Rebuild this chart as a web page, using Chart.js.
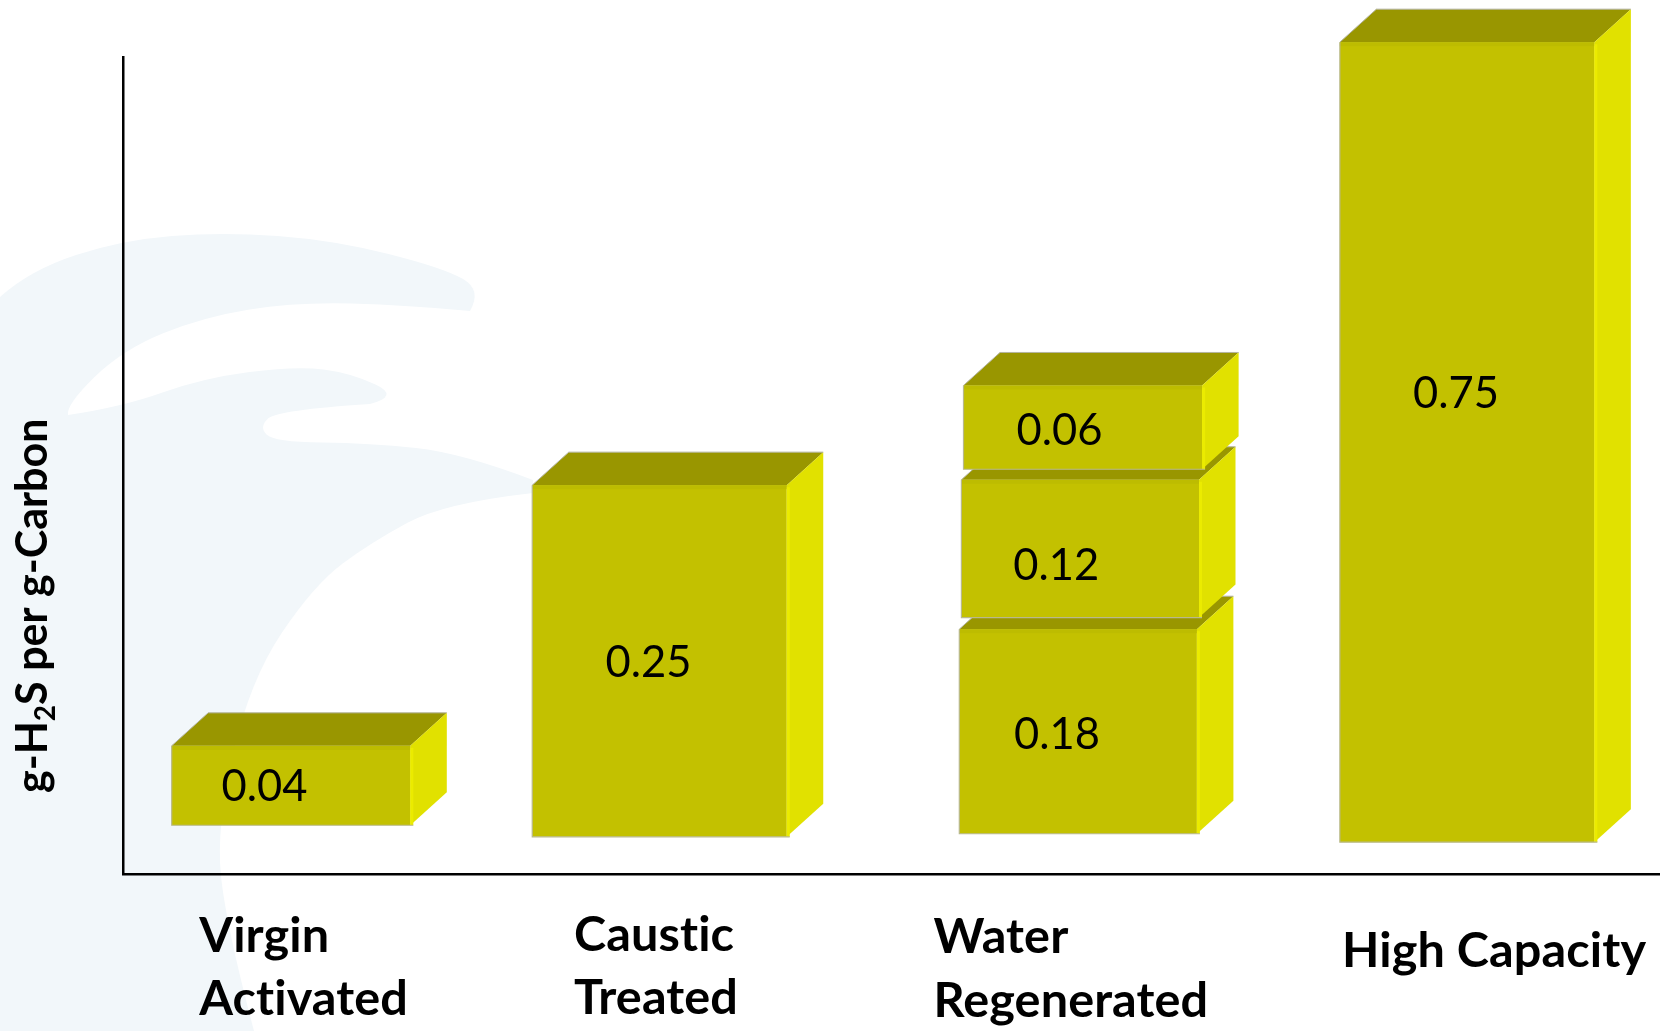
<!DOCTYPE html>
<html>
<head>
<meta charset="utf-8">
<style>
  html, body { margin: 0; padding: 0; background: #fff; }
  canvas { display: block; }
</style>
<script src="https://cdn.jsdelivr.net/npm/chart.js@4/dist/chart.umd.min.js"></script>
</head>
<body>
<canvas id="capacityChart" width="1662" height="1031"></canvas>
<script>
const categories = [['Virgin', 'Activated'], ['Caustic', 'Treated'], ['Water', 'Regenerated'], ['High Capacity']];

// heights as drawn in the picture (the boxes are not to scale with their printed numbers)
const lowerBottoms = [0.0457, 0.0348, 0.0377, 0.0298];
const lowerTops = [0.1201, 0.3644, 0.2294, 0.7795];
const middleBottoms = [null, null, 0.2403, null];
const middleTops = [null, null, 0.3694, null];
const upperBottoms = [null, null, 0.3793, null];
const upperTops = [null, null, 0.4578, null];

const lowerLabels = ['0.04', '0.25', '0.18', '0.75'];
const middleLabels = [null, null, '0.12', null];
const upperLabels = [null, null, '0.06', null];

const yAxisTop = 0.7656;

const floating = (bottoms, tops) => bottoms.map((b, i) => (b === null ? null : [b, tops[i]]));

// box placement relative to the category slot, one row per dataset
const boxShift = [[-24, -39.5, -4.9, 0.1], [0, 0, -2.8, 0], [0, 0, -0.2, 0]];
const boxWidth = [[238.6, 254.5, 237.6, 254.5], [0, 0, 237.6, 0], [0, 0, 238.6, 0]];
const labelShift = [
  [[-26.5, 1], [-11, 2], [-21, 3.6], [-11, -48]],
  [null, null, [-24, 17], null],
  [null, null, [-23.4, 3.6], null]
];
const tickShift = [-115.7, -125, -149.5, -125];
const tickLineY = [[936, 999.5], [935, 998.5], [937, 1001], [951]];
const depthX = 36.5;
const depthY = 33;

const frontColor = '#c3c100';
const topColor = '#999600';
const sideColor = '#e1e100';
const washColor = '#f2f7fa';

// pale logo behind the chart
const washParts = [
  [[0, 297], [30, 270], [122, 240], [222, 232], [333, 240], [444, 268], [482, 290], [470, 311]],
  [[470, 311], [407, 305], [296, 302], [203, 317], [122, 350], [66, 405], [68, 415]],
  [[68, 415], [122, 407], [203, 378], [296, 366], [351, 373], [400, 396], [370, 404]],
  [[370, 404], [277, 410], [259, 427], [274, 442], [370, 443], [462, 453], [533, 480]],
  [[533, 480], [533, 493]],
  [[533, 493], [444, 503], [370, 543], [314, 585], [250, 680], [216, 827], [226, 925], [254, 1031]]
];

const washPlugin = {
  id: 'wash',
  beforeDraw(chart) {
    const ctx = chart.ctx;
    ctx.save();
    ctx.fillStyle = '#fff';
    ctx.fillRect(0, 0, chart.width, chart.height);
    ctx.fillStyle = washColor;
    ctx.beginPath();
    ctx.moveTo(0, 1031);
    ctx.lineTo(0, 297);
    washParts.forEach(part => {
      for (let i = 1; i < part.length - 1; i++) {
        const endX = i === part.length - 2 ? part[i + 1][0] : (part[i][0] + part[i + 1][0]) / 2;
        const endY = i === part.length - 2 ? part[i + 1][1] : (part[i][1] + part[i + 1][1]) / 2;
        ctx.quadraticCurveTo(part[i][0], part[i][1], endX, endY);
      }
      if (part.length === 2) ctx.lineTo(part[1][0], part[1][1]);
    });
    ctx.closePath();
    ctx.fill();
    ctx.restore();
  }
};

const boxPlugin = {
  id: 'box3d',
  afterDatasetsUpdate(chart) {
    chart.data.datasets.forEach((ds, d) => {
      chart.getDatasetMeta(d).data.forEach((bar, i) => {
        if (!boxWidth[d][i]) return;
        bar.x += boxShift[d][i];
        bar.width = boxWidth[d][i];
      });
    });
  },
  afterDatasetDraw(chart, args) {
    const ctx = chart.ctx;
    args.meta.data.forEach((bar, i) => {
      if (!boxWidth[args.index][i]) return;
      const left = bar.x - bar.width / 2;
      const right = bar.x + bar.width / 2;
      const top = bar.y;
      const bottom = bar.base;
      ctx.save();
      // top face
      ctx.fillStyle = topColor;
      ctx.beginPath();
      ctx.moveTo(left, top);
      ctx.lineTo(left + depthX, top - depthY);
      ctx.lineTo(right + depthX, top - depthY);
      ctx.lineTo(right, top);
      ctx.closePath();
      ctx.fill();
      // side face
      ctx.fillStyle = sideColor;
      ctx.beginPath();
      ctx.moveTo(right, top);
      ctx.lineTo(right + depthX, top - depthY);
      ctx.lineTo(right + depthX, bottom - depthY);
      ctx.lineTo(right, bottom);
      ctx.closePath();
      ctx.fill();
      // bevel edges
      ctx.fillStyle = '#bdbc00';
      ctx.fillRect(left, top, bar.width, 4);
      ctx.fillStyle = '#ebeb00';
      ctx.fillRect(right, top + 2, 3, bottom - top - 2);
      ctx.strokeStyle = '#b9b98c';
      ctx.lineWidth = 1.2;
      ctx.beginPath();
      ctx.moveTo(left, top);
      ctx.lineTo(left, bottom);
      ctx.lineTo(right + 3, bottom);
      ctx.stroke();
      ctx.strokeStyle = '#b4b4a0';
      ctx.lineWidth = 1;
      ctx.beginPath();
      ctx.moveTo(left, top);
      ctx.lineTo(left + depthX, top - depthY);
      ctx.lineTo(right + depthX, top - depthY);
      ctx.stroke();
      ctx.restore();
    });
  }
};

const textPlugin = {
  id: 'chartText',
  afterDraw(chart) {
    const ctx = chart.ctx;
    const xScale = chart.scales.x;
    ctx.save();
    ctx.fillStyle = '#000';

    // printed values on the boxes
    ctx.font = '43.5px Lato';
    ctx.textAlign = 'center';
    ctx.textBaseline = 'middle';
    chart.data.datasets.forEach((ds, d) => {
      chart.getDatasetMeta(d).data.forEach((bar, i) => {
        if (!ds.printed[i]) return;
        ctx.fillText(ds.printed[i], bar.x + labelShift[d][i][0], (bar.y + bar.base) / 2 + labelShift[d][i][1]);
      });
    });

    // category names, left aligned; the small spacing also stops the Lato "ti" ligature
    ctx.font = 'bold 48.6px Lato';
    ctx.letterSpacing = '0.1px';
    ctx.textAlign = 'left';
    categories.forEach((lines, i) => {
      lines.forEach((line, n) => {
        ctx.fillText(line, xScale.getPixelForTick(i) + tickShift[i], tickLineY[i][n]);
      });
    });
    ctx.letterSpacing = '0px';

    // y axis title with the subscript
    ctx.translate(47, 793);
    ctx.rotate(-Math.PI / 2);
    ctx.textBaseline = 'alphabetic';
    ctx.font = 'bold 43px Lato';
    ctx.fillText('g-H', 0, 0);
    let pos = ctx.measureText('g-H').width;
    ctx.font = 'bold 28px Lato';
    ctx.fillText('2', pos, 8);
    pos += ctx.measureText('2').width;
    ctx.font = 'bold 43px Lato';
    ctx.fillText('S per g-Carbon', pos, 0);
    ctx.restore();
  }
};

const makeSet = (name, bottoms, tops, printed, order) => ({
  label: name,
  data: floating(bottoms, tops),
  printed,
  order,
  grouped: false,
  clip: false,
  backgroundColor: frontColor,
  borderWidth: 0
});

new Chart(document.getElementById('capacityChart'), {
  type: 'bar',
  data: {
    labels: categories,
    datasets: [
      makeSet('Lower', lowerBottoms, lowerTops, lowerLabels, 3),
      makeSet('Middle', middleBottoms, middleTops, middleLabels, 2),
      makeSet('Upper', upperBottoms, upperTops, upperLabels, 1)
    ]
  },
  options: {
    responsive: false,
    animation: false,
    devicePixelRatio: 1,
    layout: { padding: { left: 123, top: 57, right: 3, bottom: 157 } },
    plugins: { legend: { display: false }, tooltip: { enabled: false } },
    scales: {
      x: {
        grid: { display: false, drawTicks: false },
        border: { color: '#000', width: 2.5 },
        ticks: { display: false }
      },
      y: {
        min: 0,
        max: yAxisTop,
        grid: { display: false, drawTicks: false },
        border: { color: '#000', width: 2.5 },
        ticks: { display: false }
      }
    }
  },
  plugins: [washPlugin, boxPlugin, textPlugin]
});
</script>
</body>
</html>
